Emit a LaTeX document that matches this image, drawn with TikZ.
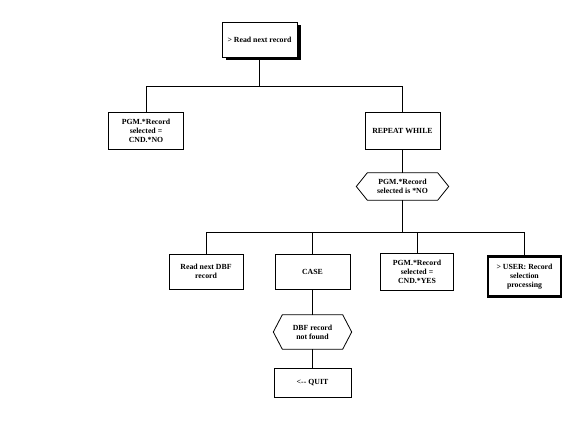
\documentclass[tikz,border=0pt]{standalone}
\usepackage{fontspec}
\setmainfont{Liberation Serif}
\usetikzlibrary{shadows}
\begin{document}
\begin{tikzpicture}[x=1pt,y=1pt,
  txt/.style={font=\fontsize{7.8}{9}\selectfont\bfseries, align=center, inner sep=0pt},
  box/.style={txt, draw, line width=0.8pt, fill=white},
  hexnode/.style={txt},
  conn/.style={line width=0.8pt},
  hexline/.style={line width=0.8pt}
]
\useasboundingbox (0,0) rectangle (580,435);

% nodes (y = 435 - pixel y)
\node[box, minimum width=75, minimum height=35,
  drop shadow={shadow xshift=3.5pt, shadow yshift=-3.5pt, fill=black, opacity=1}]
  (top) at (259.5,395.5) {> Read next record};
\node[box, minimum width=75, minimum height=37] (pgmno) at (146,304.5) {PGM.*Record\\selected =\\CND.*NO};
\node[box, minimum width=75, minimum height=37] (rep) at (402.5,304.5) {REPEAT WHILE};
\node[hexnode, minimum width=92, minimum height=27] (h1) at (402.5,248.5) {PGM.*Record\\selected is *NO};
\node[box, minimum width=74, minimum height=35] (dbf) at (206,163.5) {Read next DBF\\record};
\node[box, minimum width=75, minimum height=35] (case) at (312.5,163.5) {CASE};
\node[box, minimum width=73, minimum height=37] (yes) at (417,163.5) {PGM.*Record\\selected =\\CND.*YES};
\node[box, line width=2.6pt, minimum width=73, minimum height=40] (user) at (524.5,158.5) {> USER: Record\\selection\\processing};
\node[hexnode, minimum width=78, minimum height=34] (h2) at (312.5,103) {DBF record\\not found};
\node[box, minimum width=77, minimum height=29] (quit) at (312.5,52.5) {<-{}- QUIT};

% hexagon outlines
\draw[hexline] ([xshift=11]h1.north west) -- ([xshift=-11]h1.north east) -- (h1.east)
  -- ([xshift=-11]h1.south east) -- ([xshift=11]h1.south west) -- (h1.west) -- cycle;
\draw[hexline] ([xshift=9]h2.north west) -- ([xshift=-9]h2.north east) -- (h2.east)
  -- ([xshift=-9]h2.south east) -- ([xshift=9]h2.south west) -- (h2.west) -- cycle;

% buses
\coordinate (bus1) at (0,349);
\coordinate (bus2) at (0,203);

% connectors
\draw[conn] (top.south) -- (top.south |- bus1) -| (pgmno.north);
\draw[conn] (top.south |- bus1) -| (rep.north);
\draw[conn] (rep.south) -- (h1.north);
\draw[conn] (h1.south) -- (h1.south |- bus2) -| (dbf.north);
\draw[conn] (h1.south |- bus2) -| (case.north);
\draw[conn] (h1.south |- bus2) -| (yes.north);
\draw[conn] (h1.south |- bus2) -| (user.north);
\draw[conn] (case.south) -- (h2.north);
\draw[conn] (h2.south) -- (quit.north);
\end{tikzpicture}
\end{document}
